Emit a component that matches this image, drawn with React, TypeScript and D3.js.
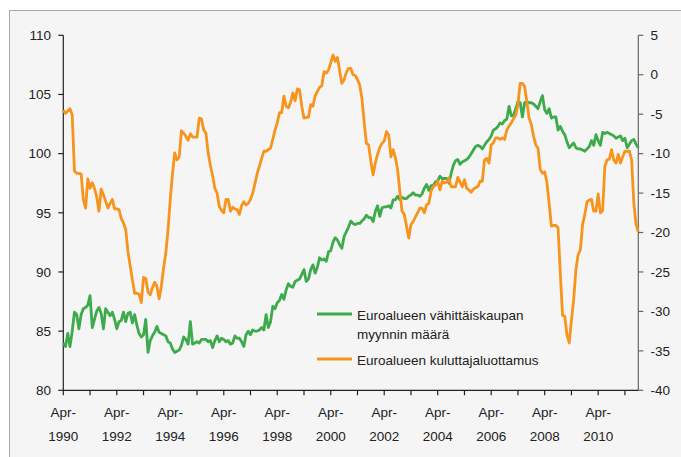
import React from "react";
import * as d3 from "d3";

// Monthly data, Apr-1990 ... Oct-2011
const startYear = 1990;

const retailVolume: number[] = [
  84.0, 83.7, 84.8, 83.7, 85.0, 86.6, 86.4, 85.2, 86.4, 86.9, 87.0, 87.2,
  88.0, 85.3, 86.0, 86.7, 87.0, 86.5, 85.2, 86.9, 86.6, 86.3, 86.6, 86.0,
  85.2, 85.8, 85.9, 86.6, 85.8, 86.5, 86.6, 85.7, 86.4, 85.5, 84.8, 84.5,
  84.7, 86.0, 83.2, 84.2, 84.6, 84.9, 85.4, 84.9, 84.8, 84.7, 84.6, 84.1,
  84.0, 83.5, 83.2, 83.3, 83.4, 83.8, 84.5, 84.3, 83.9, 85.8, 83.9, 84.0,
  84.1, 84.0, 84.3, 84.3, 84.3, 84.1, 84.2, 83.6, 84.2, 84.6, 84.1, 84.4,
  84.3, 84.1, 84.2, 83.9, 84.0, 84.6, 84.4, 84.4, 84.1, 83.7, 84.7, 85.0,
  84.7, 85.1, 85.0, 85.0, 85.1, 85.3, 85.1, 86.4, 85.3, 85.8, 87.1, 86.9,
  87.4, 87.6, 88.1, 87.7, 88.5, 89.0, 88.8, 88.7, 89.2, 89.3, 89.4, 89.8,
  90.2, 89.2, 89.4, 90.2, 90.6, 89.9, 90.4, 91.2, 91.0, 91.1, 90.9, 91.7,
  91.8, 92.5, 92.9, 92.7, 92.3, 92.0, 93.0, 93.4, 93.8, 94.3, 94.1, 94.0,
  94.1, 94.1, 94.3, 94.5, 94.8, 94.6, 94.6, 94.25, 95.1, 95.6, 94.7, 95.4,
  95.5, 95.5, 95.6, 95.4, 96.1, 96.1, 96.4, 96.1, 96.3, 96.2, 96.2, 96.4,
  96.5, 96.7, 96.5, 96.5, 96.4, 96.6, 97.1, 97.4, 96.9, 97.3, 97.3, 97.6,
  97.7, 98.1, 97.9, 97.9, 97.9, 97.5, 98.3, 99.0, 99.4, 99.5, 99.1, 99.3,
  99.4, 99.5, 99.7, 100.0, 100.3, 100.6, 100.7, 100.6, 100.4, 100.7, 101.0, 101.2,
  101.5, 102.0, 102.1, 102.3, 102.6, 102.5, 102.8, 102.9, 104.0, 103.2, 103.2, 103.8,
  104.4, 104.3, 103.1, 104.3, 104.4, 104.3, 104.3, 104.2, 104.0, 103.8, 104.4, 104.9,
  103.7, 103.4, 103.8, 103.0, 103.1, 103.1, 102.0, 102.3, 101.9, 101.6, 101.0, 100.5,
  100.7, 100.9, 100.5, 100.4, 100.4, 100.3, 100.2, 100.4, 100.6, 101.1, 100.7, 101.6,
  101.1, 100.7, 101.8, 101.7, 101.8, 101.7, 101.6, 101.5, 101.3, 101.4, 101.5, 101.1,
  101.3, 100.5, 100.8, 101.1, 101.2, 100.8, 100.5,
];

const consumerConfidence: number[] = [
  -4.5, -4.9, -4.6, -4.3, -5.1, -12.2, -12.5, -12.5, -12.6, -15.8, -16.9, -13.2,
  -14.4, -13.7, -14.4, -15.5, -17.3, -14.5, -15.2, -16.0, -16.9, -16.3, -15.8, -17.0,
  -17.0, -17.1, -18.2, -18.8, -19.6, -22.4, -24.2, -26.0, -27.7, -27.7, -27.8, -28.9,
  -25.7, -25.8, -27.5, -27.9, -27.0, -26.3, -26.8, -28.4, -26.8, -24.5, -22.6, -19.6,
  -15.8, -12.5, -9.9, -10.8, -10.4, -7.1, -7.4, -7.8, -8.3, -7.5, -7.9, -7.9,
  -7.9, -5.5, -5.6, -7.0, -7.4, -9.9, -11.5, -12.8, -14.4, -15.0, -16.7, -17.2,
  -17.5, -15.8, -15.8, -17.3, -16.8, -17.0, -17.1, -17.7, -16.6, -16.1, -16.5, -16.3,
  -15.8, -15.0, -13.8, -12.5, -11.6, -10.6, -9.7, -9.7, -9.5, -9.3, -8.2, -7.0,
  -6.1, -4.8, -4.8, -2.7, -4.0, -4.2, -3.5, -2.3, -3.3, -1.8, -1.9, -4.0,
  -5.5, -5.4, -5.4, -3.8, -4.0, -2.7, -2.1, -1.6, -1.4, 0.4, 0.2, 0.6,
  1.5, 2.5, 1.7, 2.2, 0.5, -1.1, -0.6, 0.3, 0.8, 0.8, 0.0, -0.1,
  -0.6, -1.3, -3.0, -6.0, -8.7, -8.9, -11.0, -12.7, -11.2, -10.1, -9.2, -8.7,
  -8.4, -7.2, -7.6, -10.4, -9.5, -10.5, -12.0, -14.8, -17.3, -17.7, -19.2, -20.7,
  -19.0, -18.6, -18.0, -17.5, -16.9, -16.9, -17.5, -16.5, -16.3, -14.8, -14.2, -14.0,
  -13.5, -14.6, -13.5, -13.7, -13.6, -13.1, -14.2, -14.2, -14.2, -13.0, -13.6, -14.2,
  -13.3, -14.4, -14.6, -14.9, -14.5, -14.3, -14.2, -13.5, -13.5, -10.8, -10.6, -11.2,
  -8.9, -8.6, -8.0, -8.0, -8.2, -8.0, -8.2, -7.0, -6.5, -6.1, -5.6, -5.1,
  -3.8, -1.1, -1.1, -1.5, -3.4, -5.5, -6.3, -7.8, -8.9, -9.3, -12.0, -12.5,
  -12.3, -13.7, -16.3, -19.2, -19.1, -19.1, -19.4, -25.1, -30.5, -30.6, -33.0, -34.0,
  -31.1, -28.5, -24.7, -22.8, -22.2, -19.0, -17.7, -16.1, -15.9, -15.8, -17.3, -17.3,
  -15.1, -17.5, -17.2, -11.6, -10.8, -10.7, -9.5, -10.8, -11.2, -10.1, -11.2, -10.4,
  -9.7, -9.7, -9.7, -10.8, -16.3, -19.0, -19.9,
];

const leftTicks = [80, 85, 90, 95, 100, 105, 110];
const rightTicks = [-40, -35, -30, -25, -20, -15, -10, -5, 0, 5];
const tickYears = d3.range(1990, 2012);
const labelYears = [1990, 1992, 1994, 1996, 1998, 2000, 2002, 2004, 2006, 2008, 2010];
const monthPrefix = "Apr-";
const legendGreen = ["Euroalueen vähittäiskaupan", "myynnin määrä"];
const legendOrange = "Euroalueen kuluttajaluottamus";

const GREEN = "#3dab4b";
const ORANGE = "#f7941d";
const FONT = "'Liberation Sans', Arial, Helvetica, sans-serif";

export default function App() {
  const W = 681;
  const H = 457;
  const left = 63.3;
  const right = 638.3;
  const top = 35.3;
  const bottom = 390.3;

  const x = d3
    .scaleLinear()
    .domain([0, consumerConfidence.length - 1])
    .range([left, right]);
  const idx = (y: number) => (y - startYear) * 12; // April index
  const yL = d3.scaleLinear().domain([80, 110]).range([bottom, top]);
  const yR = d3.scaleLinear().domain([-40, 5]).range([bottom, top]);

  const lineG = d3
    .line<number>()
    .x((_, i) => x(i))
    .y((d) => yL(d));
  const lineO = d3
    .line<number>()
    .x((_, i) => x(i))
    .y((d) => yR(d));

  return (
    <svg
      width={W}
      height={H}
      style={{ position: "absolute", left: 0, top: 0, background: "#ffffff" }}
      fontFamily={FONT}
    >
      <rect x={9.5} y={10.5} width={700} height={470} fill="#f4f5f4" stroke="#a9a9a9" strokeWidth={1} />

      {/* left axis */}
      <line x1={left} x2={left} y1={top} y2={bottom} stroke="#222" strokeWidth={1.2} />
      {leftTicks.map((t) => (
        <g key={"l" + t}>
          <line x1={left - 5} x2={left} y1={yL(t)} y2={yL(t)} stroke="#222" strokeWidth={1.2} />
          <text x={51} y={yL(t)} dy="0.35em" textAnchor="end" fontSize={13.5} fill="#222">
            {t}
          </text>
        </g>
      ))}

      {/* right axis */}
      <line x1={right} x2={right} y1={top} y2={bottom} stroke="#666" strokeWidth={1.2} />
      {rightTicks.map((t) => (
        <g key={"r" + t}>
          <line x1={right} x2={right + 5} y1={yR(t)} y2={yR(t)} stroke="#666" strokeWidth={1.2} />
          <text x={650.5} y={yR(t)} dy="0.35em" textAnchor="start" fontSize={13.5} fill="#222">
            {t}
          </text>
        </g>
      ))}

      {/* bottom axis */}
      <line x1={left} x2={right} y1={bottom} y2={bottom} stroke="#222" strokeWidth={1.2} />
      {tickYears.map((yr) => (
        <line
          key={"t" + yr}
          x1={x(idx(yr))}
          x2={x(idx(yr))}
          y1={bottom}
          y2={bottom + 5}
          stroke="#222"
          strokeWidth={1.2}
        />
      ))}
      {labelYears.map((yr) => (
        <g key={"lab" + yr}>
          <text x={x(idx(yr))} y={417} textAnchor="middle" fontSize={13.5} fill="#222">
            {monthPrefix}
          </text>
          <text x={x(idx(yr))} y={441} textAnchor="middle" fontSize={13.5} fill="#222">
            {yr}
          </text>
        </g>
      ))}

      {/* series */}
      <path d={lineG(retailVolume) || ""} fill="none" stroke={GREEN} strokeWidth={2.8} strokeLinejoin="round" />
      <path d={lineO(consumerConfidence) || ""} fill="none" stroke={ORANGE} strokeWidth={2.8} strokeLinejoin="round" />

      {/* legend */}
      <line x1={317} x2={352} y1={314} y2={314} stroke={GREEN} strokeWidth={3} />
      <text x={357} y={320} fontSize={13.5} fill="#222">
        {legendGreen[0]}
      </text>
      <text x={357} y={339} fontSize={13.5} fill="#222">
        {legendGreen[1]}
      </text>
      <line x1={317} x2={352} y1={359} y2={359} stroke={ORANGE} strokeWidth={3} />
      <text x={357} y={364.5} fontSize={13.5} fill="#222">
        {legendOrange}
      </text>
    </svg>
  );
}
